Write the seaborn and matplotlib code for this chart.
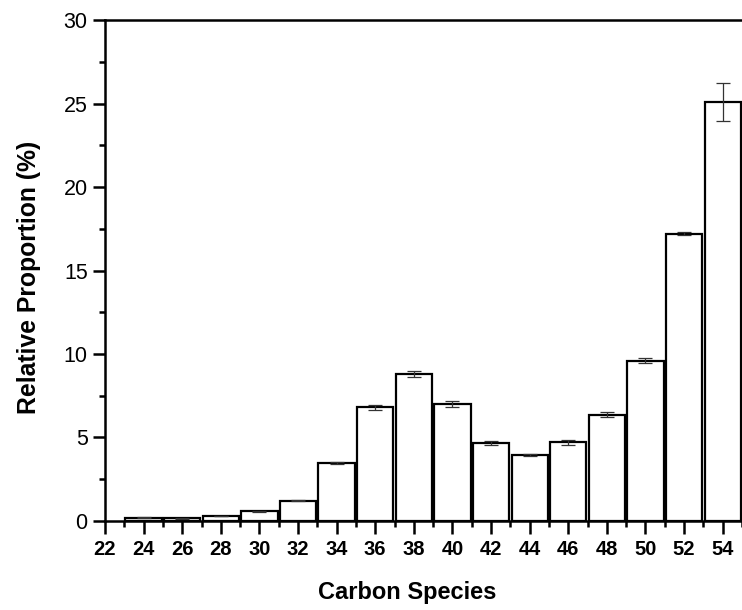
import matplotlib
matplotlib.use("Agg")
import matplotlib.pyplot as plt
import seaborn as sns
import pandas as pd
from matplotlib.ticker import MultipleLocator

carbon = [24, 26, 28, 30, 32, 34, 36, 38, 40, 42, 44, 46, 48, 50, 52, 54]
proportion = [0.2, 0.15, 0.3, 0.58, 1.22, 3.47, 6.8, 8.8, 7.0, 4.65, 3.95, 4.7, 6.35, 9.6, 17.2, 25.1]
error = [0.02, 0.02, 0.02, 0.03, 0.03, 0.08, 0.15, 0.18, 0.18, 0.12, 0.08, 0.15, 0.15, 0.15, 0.1, 1.15]

df = pd.DataFrame({"carbon": carbon, "proportion": proportion, "error": error})

sns.set_theme(style="ticks")
plt.rcParams['font.family'] = ['Liberation Sans', 'DejaVu Sans']
plt.rcParams['text.color'] = 'black'
plt.rcParams['axes.labelcolor'] = 'black'
plt.rcParams['xtick.color'] = 'black'
plt.rcParams['ytick.color'] = 'black'

fig = plt.figure(figsize=(7.42, 6.10), dpi=100)
ax = fig.add_axes([0.1415, 0.146, 0.8585, 0.821])

sns.barplot(data=df, x="carbon", y="proportion", native_scale=True, width=0.94,
            color="white", edgecolor="black", linewidth=1.6, errorbar=None, ax=ax)
for p in ax.patches:
    p.set_facecolor("white")
ax.errorbar(df["carbon"], df["proportion"], yerr=df["error"], fmt="none",
            ecolor="#333333", elinewidth=0.9, capsize=5, capthick=0.9, zorder=5)

ax.set_xlim(22, 55)
ax.set_ylim(0, 30)
ax.xaxis.set_minor_locator(MultipleLocator(1))
ax.yaxis.set_major_locator(MultipleLocator(5))
ax.yaxis.set_minor_locator(MultipleLocator(2.5))
ax.set_xticks(list(range(22, 55, 2)))
ax.set_xticklabels([str(v) for v in range(22, 55, 2)], fontweight="bold", fontsize=14.5)
ax.tick_params(axis="y", labelsize=15.5)
ax.tick_params(which="major", direction="out", length=9, width=1.8, color="black")
ax.tick_params(which="minor", direction="out", length=4.5, width=1.8, color="black")
ax.tick_params(axis="x", pad=5)

for s in ["left", "bottom", "top"]:
    ax.spines[s].set_linewidth(1.8)
    ax.spines[s].set_color("black")
ax.spines["right"].set_visible(False)

ax.set_xlabel("Carbon Species", fontsize=17, fontweight="bold")
ax.set_ylabel("Relative Proportion (%)", fontsize=17.8, fontweight="bold")
ax.xaxis.set_label_coords(0.475, -0.12)
ax.yaxis.set_label_coords(-0.1, 0.487)

fig.savefig("out.png", dpi=100)
